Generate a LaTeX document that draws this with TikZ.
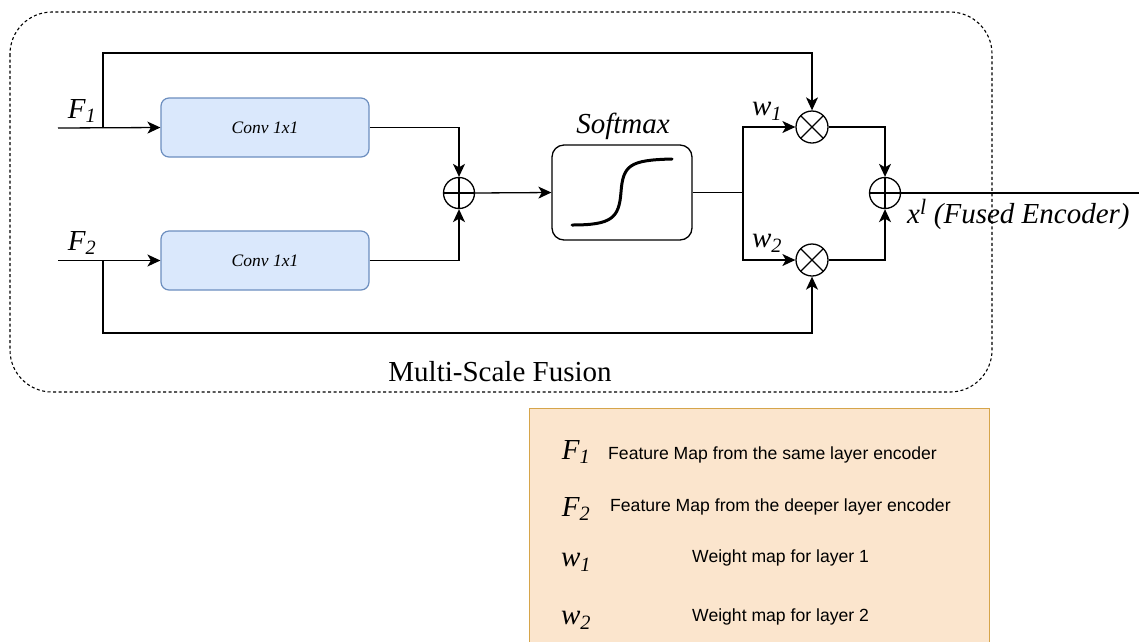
\documentclass[tikz,border=0pt]{standalone}
\usepackage{fontspec}
\setmainfont{Liberation Serif}
\newfontfamily\helv{Liberation Sans}
\usetikzlibrary{arrows.meta}
\definecolor{convfill}{HTML}{DAE8FC}
\definecolor{convdraw}{HTML}{6C8EBF}
\definecolor{legfill}{HTML}{FBE5CD}
\definecolor{legdraw}{HTML}{D6A54A}
\tikzset{
  wire/.style={line width=1.3pt},
  arr/.style={wire,-{Stealth[length=13pt,width=12pt,inset=3.5pt]}},
  convbox/.style={draw=convdraw,fill=convfill,line width=1.2pt,rounded corners=8pt,
    minimum width=208pt,minimum height=59pt,font=\fontsize{17.5}{20}\selectfont\itshape},
  softbox/.style={draw,line width=1.3pt,rounded corners=12pt,minimum width=140pt,minimum height=95pt},
  opplus/.style={draw,circle,line width=1.3pt,minimum size=31pt,inner sep=0pt,
    path picture={\draw[line width=1.3pt] (path picture bounding box.north) -- (path picture bounding box.south)
      (path picture bounding box.west) -- (path picture bounding box.east);}},
  optimes/.style={draw,circle,line width=1.3pt,minimum size=32pt,inner sep=0pt,
    path picture={\draw[line width=1.3pt] (path picture bounding box.north west) -- (path picture bounding box.south east)
      (path picture bounding box.south west) -- (path picture bounding box.north east);}},
  sym/.style={font=\fontsize{29}{31}\selectfont\itshape,inner sep=0pt},
  lbl/.style={font=\fontsize{29}{31}\selectfont\itshape,inner sep=0pt},
  legtxt/.style={font=\helv\fontsize{17.6}{20}\selectfont,anchor=west,inner sep=0pt},
}
\begin{document}
\begin{tikzpicture}[x=1pt,y=-1pt]
\clip (0,0) rectangle (1139,641);
% outer dashed frame
\draw[line width=1.1pt,dash pattern=on 3pt off 2.5pt,rounded corners=42pt] (10,12) rectangle (992,392);
\node[font=\fontsize{29}{31}\selectfont,inner sep=0pt] (title) at (500,372) {Multi-Scale Fusion};

% blocks
\node[convbox] (conv1) at (265,127.5) {Conv 1x1};
\node[convbox] (conv2) at (265,260.5) {Conv 1x1};
\node[opplus] (plus) at (459,193) {};
\node[softbox] (soft) at (622,192.5) {};
\node[lbl] (softlbl) at (623,126) {Softmax};
\draw[line width=3pt,line cap=round] (572,225) .. controls (612,225) and (619,218) .. (621,192)
  .. controls (623,165) and (630,160) .. (672,159);
\node[optimes] (mult1) at (812,127) {};
\node[optimes] (mult2) at (812,260) {};
\node[opplus] (sum) at (885,193) {};

% inputs
\coordinate (in1) at (58,128);
\coordinate (in2) at (58,260.5);
\coordinate (b1) at (103,128);
\coordinate (b2) at (103,260.5);
\coordinate (top) at (103,53);
\coordinate (bot) at (103,333);
\node[sym] (f1) at (82,111) {F\textsubscript{1}};
\node[sym] (f2) at (82,243) {F\textsubscript{2}};

\draw[arr] (in1) -- (conv1.west);
\draw[arr] (in2) -- (conv2.west);
\draw[arr] (b1) -- (top) -| (mult1.north);
\draw[arr] (b2) -- (bot) -| (mult2.south);
\draw[arr] (conv1.east) -| (plus.north);
\draw[arr] (conv2.east) -| (plus.south);
\draw[arr] (plus.east) -- (soft.west);

\coordinate (split) at (743,192.5);
\draw[wire] (soft.east) -- (split);
\draw[arr] (split) |- (mult1.west);
\draw[arr] (split) |- (mult2.west);
\node[sym] (w1) at (767,111) {w\textsubscript{1}};
\node[sym] (w2) at (767,243) {w\textsubscript{2}};

\draw[arr] (mult1.east) -| (sum.north);
\draw[arr] (mult2.east) -| (sum.south);
\coordinate (out) at (1139,193);
\draw[wire] (sum.east) -- (out);
\node[lbl,anchor=west] (xl) at (907,214) {x\textsuperscript{\fontsize{22}{24}\selectfont l} (Fused Encoder)};

% legend
\node[draw=legdraw,fill=legfill,line width=1.2pt,minimum width=460pt,minimum height=250pt,anchor=north west,inner sep=0pt] (legend) at (529,408) {};
\node[sym] (lf1) at (576,452) {F\textsubscript{1}};
\node[legtxt] (tf1) at (608,455) {Feature Map from the same layer encoder};
\node[sym] (lf2) at (576,509) {F\textsubscript{2}};
\node[legtxt] (tf2) at (610,507) {Feature Map from the deeper layer encoder};
\node[sym] (lw1) at (576,562) {w\textsubscript{1}};
\node[legtxt] (tw1) at (692,558) {Weight map for layer 1};
\node[sym] (lw2) at (576,620) {w\textsubscript{2}};
\node[legtxt] (tw2) at (692,617) {Weight map for layer 2};
\end{tikzpicture}
\end{document}
